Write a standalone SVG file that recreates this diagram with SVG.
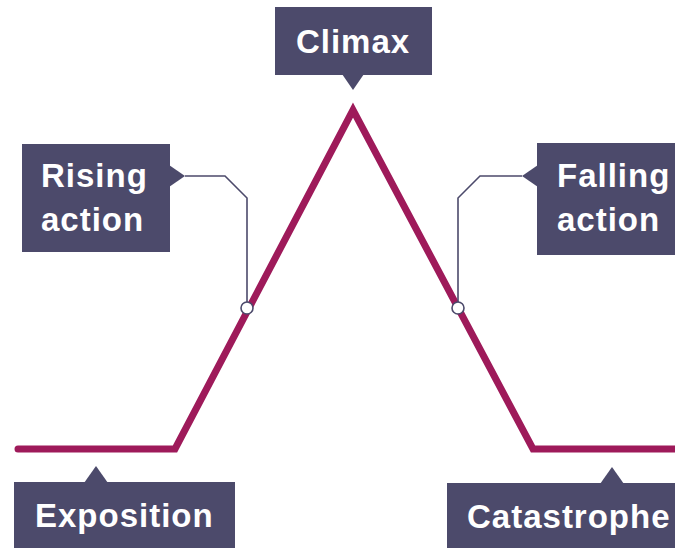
<svg xmlns="http://www.w3.org/2000/svg" width="675" height="550" viewBox="0 0 675 550">
<style>
.box{fill:#4c4a6b}
.lbl{fill:#ffffff;font-family:"Liberation Sans",Arial,sans-serif;font-weight:bold;font-size:33px;letter-spacing:1px}
.plot{fill:none;stroke:#9e1a5a;stroke-width:7;stroke-linecap:round;stroke-linejoin:miter}
.lead{fill:none;stroke:#4c4a6b;stroke-width:1.6}
.dot{fill:#ffffff;stroke:#4c4a6b;stroke-width:1.6}
</style>
<rect width="675" height="550" fill="#ffffff"/>
<g id="connectors">
<polyline class="plot" points="18,449 175,449 353,110 533,449 680,449"/>
<polyline class="lead" points="185,176 225,176 247,198 247,308"/>
<polyline class="lead" points="522,176 480,176 458,198 458,308"/>
<circle class="dot" cx="247" cy="308" r="6"/>
<circle class="dot" cx="458" cy="308" r="6"/>
</g>
<g id="climax">
<rect class="box" x="275" y="7" width="157" height="68"/>
<polygon class="box" points="342,74 364,74 353,90"/>
<text class="lbl" x="353" y="53" text-anchor="middle">Climax</text>
</g>
<g id="rising-action">
<rect class="box" x="22" y="144" width="148" height="108"/>
<polygon class="box" points="169,165 169,187 185,176"/>
<text class="lbl" x="41" y="187">Rising</text>
<text class="lbl" x="41" y="231">action</text>
</g>
<g id="falling-action">
<rect class="box" x="537" y="143" width="140" height="112"/>
<polygon class="box" points="538,165 538,187 522,176"/>
<text class="lbl" x="557" y="187">Falling</text>
<text class="lbl" x="557" y="231">action</text>
</g>
<g id="exposition">
<rect class="box" x="14" y="482" width="221" height="66"/>
<polygon class="box" points="84,483 108,483 96,466"/>
<text class="lbl" x="35" y="527">Exposition</text>
</g>
<g id="catastrophe">
<rect class="box" x="447" y="483" width="230" height="65"/>
<polygon class="box" points="600,484 624,484 612,467"/>
<text class="lbl" x="467" y="528">Catastrophe</text>
</g>
</svg>
